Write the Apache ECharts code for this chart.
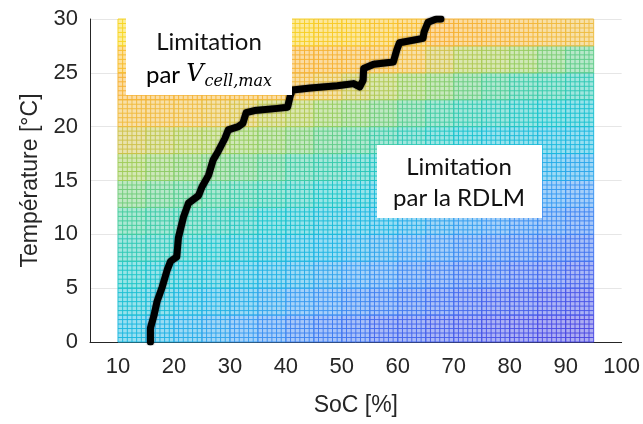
<!DOCTYPE html>
<html>
<head>
<meta charset="utf-8">
<script src="https://cdn.jsdelivr.net/npm/echarts@6/dist/echarts.min.js"></script>
<style>
html,body{margin:0;padding:0;background:#fff}
#main{width:643px;height:424px}
</style>
</head>
<body>
<div id="main"></div>
<script>
// centres des mailles
var socCentres=[12.5,17.5,22.5,27.5,32.5,37.5,42.5,47.5,52.5,57.5,62.5,67.5,72.5,77.5,82.5,87.5,92.5];
var tempCentres=[1.25,3.75,6.25,8.75,11.25,13.75,16.25,18.75,21.25,23.75,26.25,28.75];

// niveau de couleur (0 = violet, 1 = jaune), une ligne par température
var niveaux=[
    [0.42,0.39,0.37,0.34,0.31,0.28,0.25,0.23,0.21,0.18,0.17,0.15,0.14,0.12,0.11,0.09,0.08],
    [0.47,0.45,0.42,0.39,0.37,0.34,0.31,0.29,0.26,0.24,0.22,0.20,0.18,0.16,0.15,0.13,0.12],
    [0.51,0.49,0.47,0.45,0.42,0.39,0.37,0.34,0.31,0.29,0.26,0.24,0.22,0.21,0.19,0.18,0.16],
    [0.55,0.54,0.52,0.50,0.47,0.45,0.42,0.40,0.37,0.34,0.31,0.29,0.27,0.25,0.24,0.22,0.21],
    [0.60,0.58,0.57,0.55,0.53,0.50,0.48,0.45,0.42,0.40,0.37,0.34,0.32,0.30,0.28,0.27,0.25],
    [0.65,0.63,0.62,0.60,0.58,0.56,0.54,0.51,0.48,0.45,0.42,0.40,0.37,0.35,0.33,0.31,0.29],
    [0.70,0.68,0.67,0.65,0.64,0.62,0.59,0.57,0.54,0.52,0.49,0.45,0.43,0.41,0.39,0.37,0.35],
    [0.76,0.74,0.72,0.71,0.69,0.68,0.66,0.63,0.61,0.58,0.55,0.52,0.49,0.46,0.45,0.43,0.42],
    [0.82,0.81,0.80,0.79,0.77,0.74,0.72,0.69,0.67,0.65,0.62,0.59,0.56,0.54,0.52,0.50,0.48],
    [0.88,0.87,0.87,0.86,0.86,0.85,0.83,0.79,0.75,0.72,0.69,0.67,0.64,0.61,0.58,0.57,0.55],
    [0.92,0.92,0.91,0.91,0.90,0.90,0.89,0.88,0.87,0.85,0.81,0.76,0.72,0.71,0.69,0.66,0.63],
    [0.96,0.96,0.96,0.96,0.96,0.95,0.95,0.94,0.94,0.93,0.92,0.90,0.88,0.87,0.85,0.82,0.80]
];

// frontiere entre les deux limitations [SoC, T]
var frontiere=[
    [15.8,0],[15.8,1.3],[16.4,2.4],[17.0,3.8],[17.9,5.1],[18.8,6.7],[19.4,7.5],[20.5,7.9],
    [20.8,9.7],[21.7,11.6],[22.6,12.9],[24.4,13.6],[25.0,14.4],[26.2,15.5],[27.0,16.9],
    [27.9,17.7],[29.1,18.9],[29.7,19.7],[31.5,20.0],[32.3,20.3],[32.9,21.3],[34.4,21.5],
    [38.5,21.7],[40.3,21.8],[40.8,22.9],[41.2,23.4],[44.4,23.6],[49.2,23.8],[52.1,24.0],
    [53.2,23.7],[53.8,24.3],[53.9,25.4],[55.7,25.8],[59.2,26.0],[59.8,27.1],[60.3,27.8],
    [64.5,28.2],[64.7,28.8],[65.4,29.7],[66.9,30.0],[67.7,30.0]
];

var socTicks=[10,20,30,40,50,60,70,80,90,100];
var tempTicks=[0,5,10,15,20,25,30];

var pasSoc=5, pasTemp=2.5, nDiv=6;

var mailles=[];
tempCentres.forEach(function (t,i) {
    socCentres.forEach(function (s,j) {
        mailles.push([s,t,niveaux[i][j]]);
    });
});

//une maille : fond clair + quadrillage fin
var renderMaille=function (params,api) {
    var s=api.value(0), t=api.value(1);
    var bg=api.coord([s-pasSoc/2,t-pasTemp/2]);
    var hd=api.coord([s+pasSoc/2,t+pasTemp/2]);
    var c=api.visual('color');
    var w=hd[0]-bg[0], h=bg[1]-hd[1];
    var enfants=[{
        type:'rect',
        shape:{x:bg[0],y:hd[1],width:w,height:h},
        style:{fill:c,opacity:0.45}
    }];
    for (var k=0;k<=nDiv;k++) {
        var x=bg[0]+w*k/nDiv;
        var y=hd[1]+h*k/nDiv;
        enfants.push({type:'line',shape:{x1:x,y1:bg[1],x2:x,y2:hd[1]},style:{stroke:c,lineWidth:1,opacity:0.95}});
        enfants.push({type:'line',shape:{x1:bg[0],y1:y,x2:hd[0],y2:y},style:{stroke:c,lineWidth:1,opacity:0.95}});
    }
    return {type:'group',children:enfants};
};

var myChart=echarts.init(document.getElementById('main'));

var police='Arial, "Liberation Sans", Helvetica, sans-serif';

var options={
    animation:false,
    grid:{left:90,right:16,top:19,bottom:82},
    visualMap:{
        show:false,
        type:'continuous',
        dimension:2,
        seriesIndex:0,
        min:0,
        max:1,
        inRange:{color:['#4a36d8','#4a4ee6','#4070f0','#3a98f2','#1cb4e4','#18c4cc','#44cc9e','#a0cc58','#eebc40','#f8b030','#f8f018']}
    },
    xAxis:{
        type:'value',
        min:5,
        max:100,
        interval:5,
        name:'SoC [%]',
        nameLocation:'middle',
        nameGap:52,
        nameTextStyle:{color:'#262626',fontFamily:police,fontSize:23},
        axisLine:{lineStyle:{color:'#262626',width:1}},
        axisTick:{show:false},
        splitLine:{show:false},
        axisLabel:{
            margin:14,
            color:'#262626',fontFamily:police,fontSize:22,
            formatter:function (v) { return socTicks.indexOf(v)>=0 ? String(v) : ''; }
        }
    },
    yAxis:{
        type:'value',
        min:0,
        max:30,
        interval:5,
        name:'Température [°C]',
        nameLocation:'middle',
        nameGap:48,
        nameTextStyle:{color:'#262626',fontFamily:police,fontSize:23},
        axisLine:{show:true,lineStyle:{color:'#262626',width:1}},
        axisTick:{show:false},
        splitLine:{lineStyle:{color:'#e6e6e6',width:1}},
        axisLabel:{
            margin:12,
            color:'#262626',fontFamily:police,fontSize:22,
            formatter:function (v) { return tempTicks.indexOf(v)>=0 ? String(v) : ''; }
        }
    },
    series:[
        {
            type:'custom',
            renderItem:renderMaille,
            encode:{x:0,y:1},
            data:mailles,
            z:2
        },
        {
            type:'line',
            data:frontiere,
            showSymbol:false,
            z:5,
            lineStyle:{color:'#000',width:7,cap:'round',join:'round',shadowBlur:2,shadowColor:'rgba(0,0,0,0.6)'}
        }
    ],
    graphic:[
        {type:'rect',left:126,top:18,shape:{width:166,height:77},style:{fill:'#fff'},z:100},
        {type:'text',x:209,y:42,z:101,style:{text:'Limitation',font:'24px Lato',fill:'#111',align:'center',verticalAlign:'middle'}},
        {type:'text',x:209,y:75,z:101,style:{
            text:'{a|par }{v|V}{s|cell,max}',
            align:'center',verticalAlign:'middle',
            rich:{
                a:{fontFamily:'Lato',fontSize:24,color:'#111'},
                v:{fontFamily:'DejaVu Serif',fontStyle:'italic',fontSize:24,color:'#111'},
                s:{fontFamily:'DejaVu Serif',fontStyle:'italic',fontSize:16,color:'#111',padding:[14,0,0,1]}
            }
        }},
        {type:'rect',left:377,top:145,shape:{width:165,height:73},style:{fill:'#fff'},z:100},
        {type:'text',x:459,y:167,z:101,style:{text:'Limitation',font:'24px Lato',fill:'#111',align:'center',verticalAlign:'middle'}},
        {type:'text',x:459,y:198,z:101,style:{text:'par la RDLM',font:'24px Lato',fill:'#111',align:'center',verticalAlign:'middle'}}
    ]
};

myChart.setOption(options);
</script>
</body>
</html>
